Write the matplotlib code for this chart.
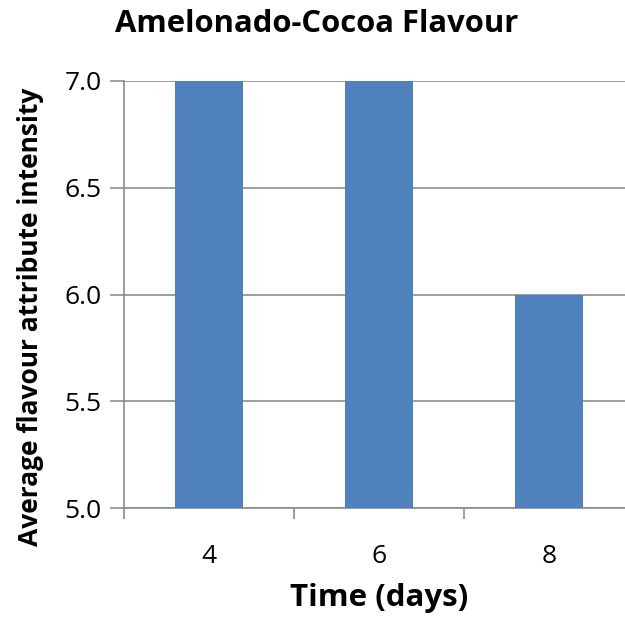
import matplotlib.pyplot as plt
from matplotlib.ticker import FixedLocator

# Amelonado cocoa: mean flavour intensity per fermentation day
days = ["4", "6", "8"]
intensity = [7.0, 7.0, 6.0]
y_ticks = [5.0, 5.5, 6.0, 6.5, 7.0]

plt.rcParams['font.family'] = ['Open Sans', 'DejaVu Sans']

W, H = 625, 620
fig = plt.figure(figsize=(W / 100, H / 100), dpi=100)
ax = fig.add_axes([124 / W, 1 - 508 / H, 510 / W, (508 - 81) / H])

x = range(len(days))
ax.bar(x, [v - 5.0 for v in intensity], bottom=5.0, width=0.4,
       color="#4F81BD", zorder=3)

ax.set_xlim(-0.5, len(days) - 0.5)
ax.set_ylim(5.0, 7.0)
ax.set_yticks(y_ticks)
ax.set_yticklabels([f"{t:.1f}" for t in y_ticks])
ax.set_xticks(list(x))
ax.set_xticklabels(days)
ax.xaxis.set_minor_locator(FixedLocator([-0.5, 0.5, 1.5, 2.5]))

ax.yaxis.grid(True, color="#8C8C8C", linewidth=1.2, zorder=0)
for side in ("top", "right"):
    ax.spines[side].set_visible(False)
for side in ("left", "bottom"):
    ax.spines[side].set_color("#8C8C8C")
    ax.spines[side].set_linewidth(1.2)

ax.tick_params(axis="y", direction="out", length=10, width=1.2,
               color="#8C8C8C", labelsize=19, pad=6)
ax.tick_params(axis="x", which="major", length=0, labelsize=19, pad=26)
ax.tick_params(axis="x", which="minor", direction="out", length=8,
               width=1.2, color="#8C8C8C")

ax.set_xlabel("Time (days)", fontsize=22.5, fontweight="bold", labelpad=10)
ax.set_ylabel("Average flavour attribute intensity", fontsize=19,
              fontweight="bold")
ax.yaxis.set_label_coords(-0.156, 0.447)
fig.text(115 / W, 1 - 24 / H, "Amelonado-Cocoa Flavour", fontsize=22.3,
         fontweight="bold", ha="left", va="center")

fig.savefig("out.png", dpi=100)
